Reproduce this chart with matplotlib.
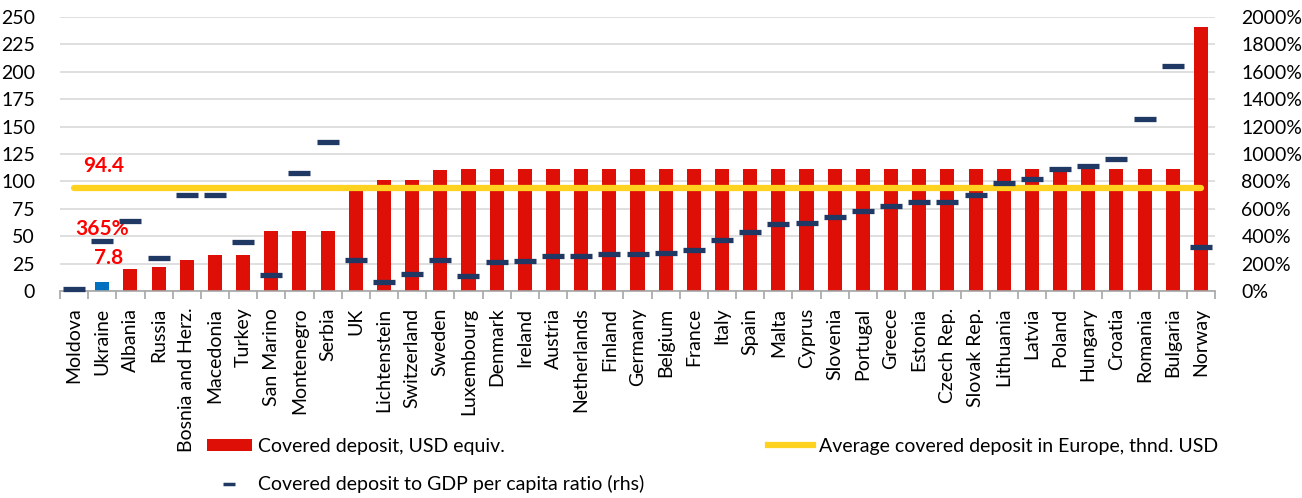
import matplotlib
matplotlib.use("Agg")
import matplotlib.pyplot as plt
from matplotlib.lines import Line2D
from matplotlib.patches import Patch
import numpy as np

plt.rcParams['font.family'] = ['Lato', 'DejaVu Sans']

countries = ["Moldova", "Ukraine", "Albania", "Russia", "Bosnia and Herz.", "Macedonia",
             "Turkey", "San Marino", "Montenegro", "Serbia", "UK", "Lichtenstein",
             "Switzerland", "Sweden", "Luxembourg", "Denmark", "Ireland", "Austria",
             "Netherlands", "Finland", "Germany", "Belgium", "France", "Italy", "Spain",
             "Malta", "Cyprus", "Slovenia", "Portugal", "Greece", "Estonia", "Czech Rep.",
             "Slovak Rep.", "Lithuania", "Latvia", "Poland", "Hungary", "Croatia",
             "Romania", "Bulgaria", "Norway"]

covered_deposit = [1.5, 7.8, 20, 21.5, 28, 33, 33, 55, 55, 55, 97, 101, 101, 110,
                   111, 111, 111, 111, 111, 111, 111, 111, 111, 111, 111, 111, 111,
                   111, 111, 111, 111, 111, 111, 111, 111, 111, 111, 111, 111, 111, 240.5]

ratio_pct = [15, 365, 509, 238, 698, 698, 355, 114, 859, 1085, 224, 63, 122, 224,
             107, 209, 217, 253, 253, 268, 268, 275, 297, 370, 428, 487, 494, 538,
             582, 618, 647, 647, 698, 786, 815, 888, 910, 961, 1253, 1640, 319]

avg_europe = 94.4
highlight = "Ukraine"

red = "#DD0F07"
blue = "#0070C0"
navy = "#1F3864"
gold = "#FFD21F"

fs = 14

fig = plt.figure(figsize=(13.02, 4.98), dpi=100)
ax = fig.add_axes([60/1302, 1-291/498, (1215-60)/1302, (291-17)/498])
ax2 = ax.twinx()

x = np.arange(len(countries))
colors = [blue if c == highlight else red for c in countries]
ax.bar(x, covered_deposit, width=0.5, color=colors, zorder=2)
ax.plot([x[0], x[-1]], [avg_europe, avg_europe], color=gold, lw=4.5,
        solid_capstyle='round', zorder=3)

ax2.plot(x, ratio_pct, linestyle='none', marker='_', markersize=16,
         markeredgewidth=3.8, color=navy, zorder=4, clip_on=False)

ax.set_xlim(-0.5, len(countries) - 0.5)
ax.set_ylim(0, 250)
ax.set_yticks(np.arange(0, 251, 25))
ax2.set_ylim(0, 2000)
ax2.set_yticks(np.arange(0, 2001, 200))
ax2.set_yticklabels([f"{v}%" for v in range(0, 2001, 200)])

ax.grid(axis='y', color='#D9D9D9', lw=1.2, zorder=0)
ax.set_axisbelow(True)

for a in (ax, ax2):
    for s in ['top', 'left', 'right']:
        a.spines[s].set_visible(False)
ax2.spines['bottom'].set_visible(False)
ax.spines['bottom'].set_color('#A6A6A6')
ax.spines['bottom'].set_linewidth(1.2)

ax.set_xticks(x)
ax.set_xticklabels(countries, rotation=90, fontsize=fs)
ax.tick_params(axis='x', which='major', length=0, pad=12)
ax.set_xticks(np.arange(-0.5, len(countries), 1), minor=True)
ax.tick_params(axis='x', which='minor', length=6, color='#A6A6A6', width=1.2)
ax.tick_params(axis='y', length=0, pad=18, labelsize=fs)
ax2.tick_params(axis='y', length=0, pad=19, labelsize=fs)

ukr = countries.index(highlight)
ax.text(1.06, 114, f"{avg_europe}", color='#FF0000', fontsize=15, fontweight='bold',
        ha='center', va='center', zorder=5)
ax.text(1.0, 56.6, f"{ratio_pct[ukr]}%", color='#FF0000', fontsize=15, fontweight='bold',
        ha='center', va='center', zorder=5)
ax.text(1.24, 30, f"{covered_deposit[ukr]}", color='#FF0000', fontsize=15,
        fontweight='bold', ha='center', va='center', zorder=5)

h_bar = Patch(facecolor=red, edgecolor='none')
h_mark = Line2D([], [], linestyle='none', marker='_', markersize=8,
                markeredgewidth=2.5, color=navy)
h_line = Line2D([], [], color=gold, lw=4.5)

leg1 = fig.legend([h_bar, h_mark],
                  ["Covered deposit, USD equiv.", "Covered deposit to GDP per capita ratio (rhs)"],
                  loc='upper left', bbox_to_anchor=(207/1302, 1-438/498), frameon=False,
                  fontsize=fs, handlelength=2.3, handleheight=0.6, handletextpad=0.3,
                  labelspacing=1.05, borderaxespad=0, borderpad=0)
leg2 = fig.legend([h_line], ["Average covered deposit in Europe, thnd. USD"],
                  loc='upper left', bbox_to_anchor=(768/1302, 1-438/498), frameon=False,
                  fontsize=fs, handlelength=2.3, handletextpad=0.3,
                  borderaxespad=0, borderpad=0)

fig.savefig("out.png", dpi=100)
